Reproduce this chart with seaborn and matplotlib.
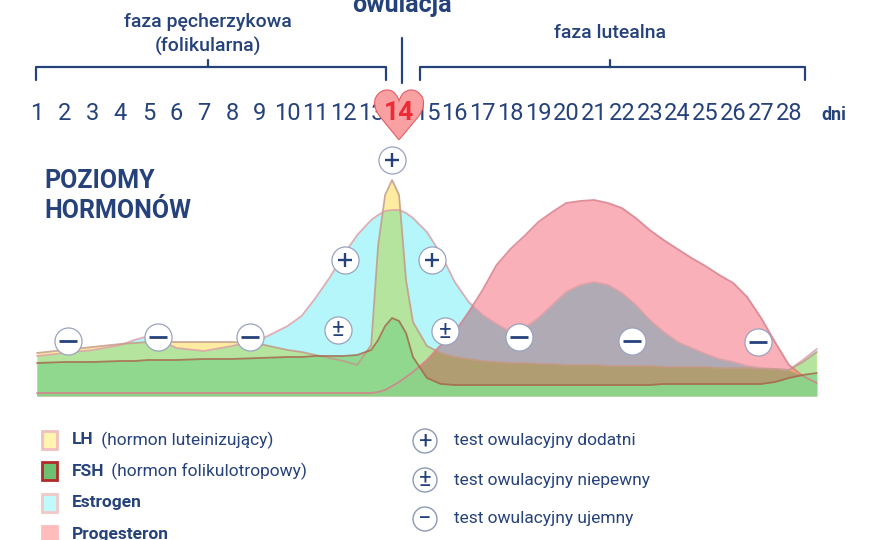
import numpy as np
import pandas as pd
import matplotlib
matplotlib.use("Agg")
import matplotlib.pyplot as plt
import seaborn as sns
from matplotlib.transforms import Affine2D
from matplotlib.patches import Rectangle, Circle
import matplotlib.patheffects as pe

# sample days of the cycle (finer around the LH peak)
days = [1, 2, 3, 4, 4.5, 5, 5.5, 6, 7, 8, 9, 10, 10.5, 11, 11.5, 12, 12.5, 13,
        13.25, 13.5, 13.75, 14, 14.25, 14.5, 15, 15.5, 16, 16.5, 17, 17.5, 18,
        18.5, 19, 19.5, 20, 20.5, 21, 21.5, 22, 22.5, 23, 23.5, 24, 24.5, 25,
        25.5, 26, 26.5, 27, 27.5, 28, 28.5, 29]

# hormone levels (arbitrary units)
estrogen = [40, 43, 46, 51, 56, 60, 55, 48, 45, 50, 56, 70, 80, 98, 118, 141, 161, 176,
            181, 185, 186, 186, 183, 178, 164, 142, 114, 94, 81, 72, 64, 68, 78, 91, 104,
            111, 114, 111, 103, 91, 76, 64, 54, 48, 42, 37, 34, 30, 28, 27, 26, 36, 47]
lh = [43, 46, 49, 52, 53, 54, 54, 54, 54, 54, 52, 46, 44, 41, 38, 35, 31, 51,
      151, 201, 216, 201, 116, 74, 50, 43, 39, 37, 35, 34, 33, 33, 32, 32, 31,
      31, 31, 30, 30, 30, 30, 29, 29, 29, 29, 28, 28, 28, 27, 27, 26, 34, 44]
progesteron = [3, 3, 3, 3, 3, 3, 3, 3, 3, 3, 3, 3, 3, 3, 3, 3, 3, 3,
               4, 6, 10, 14, 19, 24, 36, 51, 64, 84, 106, 131, 147, 160, 174, 184, 193,
               195, 196, 193, 188, 178, 166, 156, 147, 138, 130, 121, 113, 99, 78, 54, 31, 20, 13]
fsh = [33, 34, 34, 35, 35, 36, 36, 36, 37, 37, 38, 39, 39, 40, 40, 40, 41, 46,
       56, 70, 78, 75, 63, 39, 18, 12, 11, 11, 11, 11, 11, 11, 11, 11, 11,
       11, 11, 11, 11, 11, 11, 12, 12, 12, 12, 12, 12, 12, 12, 14, 18, 21, 23]

day_labels = ['1', '2', '3', '4', '5', '6', '7', '8', '9', '10', '11', '12', '13', '14',
              '15', '16', '17', '18', '19', '20', '21', '22', '23', '24', '25', '26', '27', '28']

# ovulation test results drawn on the curves
test_days = [2.1, 5.35, 8.65, 11.8, 15.65, 12.05, 15.2, 13.75, 18.3, 22.35, 26.9]
test_levels = [55, 59, 59, 66, 65, 136, 136, 236, 59, 55, 54]
test_kind = ['-', '-', '-', '±', '±', '+', '+', '+', '-', '-', '-']

legend_hormones = [('LH', ' (hormon luteinizujący)'), ('FSH', ' (hormon folikulotropowy)'),
                   ('Estrogen', ''), ('Progesteron', '')]
legend_tests = [('+', 'test owulacyjny dodatni'), ('±', 'test owulacyjny niepewny'),
                ('-', 'test owulacyjny ujemny')]

navy = '#26427b'
sns.set_theme(style='white')
plt.rcParams['font.family'] = ['Roboto', 'DejaVu Sans']

df = pd.DataFrame({'day': days, 'Estrogen': estrogen, 'LH': lh,
                   'Progesteron': progesteron, 'FSH': fsh})

fig = plt.figure(figsize=(8.8, 5.4), dpi=100)
ax = fig.add_axes([0, 0, 1, 1])
ax.axis('off')
px = Affine2D().scale(1 / 880, -1 / 540).translate(0, 1) + fig.transFigure

# multiply-style blending of the three translucent hormones
cE = np.array([180, 246, 250]) / 255
cL = np.array([255, 236, 160]) / 255
cP = np.array([250, 176, 184]) / 255
E, L, P = df['Estrogen'].values, df['LH'].values, df['Progesteron'].values

polys = {}
for name, vals, col in [('E', E, cE), ('L', L, cL), ('P', P, cP)]:
    polys[name] = ax.fill_between(df['day'], 0, vals, color=col, lw=0, zorder=1)

for a, va, ca, b, cb in [('E', E, cE, 'L', cL), ('E', E, cE, 'P', cP), ('L', L, cL, 'P', cP)]:
    pc = ax.fill_between(df['day'], 0, va, color=ca * cb, lw=0, zorder=2)
    pc.set_clip_path(polys[b].get_paths()[0], ax.transData)

pc = ax.fill_between(df['day'], 0, np.minimum(E, P), color=cE * cL * cP, lw=0, zorder=3)
pc.set_clip_path(polys['L'].get_paths()[0], ax.transData)

ax.fill_between(df['day'], 0, df['FSH'], color='#8cd78c', alpha=0.92, lw=0, zorder=3.5)

edges = {'Estrogen': '#d9a0a8', 'LH': '#c49a88', 'Progesteron': '#d77f8a', 'FSH': '#a5694e'}
for name, col in edges.items():
    sns.lineplot(data=df, x='day', y=name, ax=ax, color=col, lw=1.3, alpha=0.85, zorder=4)

# test markers
ax.scatter(test_days, test_levels, s=380, facecolor='white', edgecolor='#9aa3bf',
           lw=0.9, zorder=5)
for d, lv, k in zip(test_days, test_levels, test_kind):
    if k == '+':
        ax.scatter([d], [lv], marker='+', s=110, color=navy, lw=1.7, zorder=6)
    elif k == '-':
        ax.scatter([d], [lv], marker='_', s=150, color=navy, lw=2, zorder=6)
    else:
        ax.text(d, lv, '±', ha='center', va='center', fontsize=17, color=navy, zorder=6)

ax.set_xlim(1 - 37 / 27.85, 1 + 843 / 27.85)
ax.set_ylim(-144, 396)
ax.set_xlabel('')
ax.set_ylabel('')

# day axis labels
for i, lab in enumerate(day_labels):
    if lab == '14':
        ax.text(i + 1, 276, '\u2665', family='DejaVu Sans', fontsize=48, color='#f8a0a2',
                ha='center', va='center', zorder=6,
                path_effects=[pe.withStroke(linewidth=1.5, foreground='#e2585c')])
        ax.text(i + 1, 283, lab, ha='center', va='center', fontsize=19, fontweight='bold',
                color='#ee2a35', zorder=7)
    else:
        ax.text(i + 1, 283, lab, ha='center', va='center', fontsize=17, color=navy)
ax.text(1 + (834 - 37) / 27.85, 281, 'dni', ha='center', va='center', fontsize=13,
        fontweight='bold', color=navy)

# phase headers and brackets
fig.text(402, 12, 'owulacja', transform=px, ha='center', va='baseline', fontsize=18,
         fontweight='bold', color=navy)
fig.text(208, 22, 'faza pęcherzykowa', transform=px, ha='center', va='center',
         fontsize=14, fontweight='medium', color=navy)
fig.text(208, 46, '(folikularna)', transform=px, ha='center', va='center',
         fontsize=14, fontweight='medium', color=navy)
fig.text(610, 33, 'faza lutealna', transform=px, ha='center', va='center',
         fontsize=14, fontweight='medium', color=navy)
for x0, x1, xm in [(36, 386, 208), (420, 805, 610)]:
    ax.plot([x0, x0, x1, x1], [80, 67, 67, 80], transform=px, color=navy, lw=1.6)
    ax.plot([xm, xm], [67, 60], transform=px, color=navy, lw=1.6)
ax.plot([402, 402], [38, 83], transform=px, color=navy, lw=1.6)

fig.text(44, 181, 'POZIOMY', transform=px, ha='left', va='center', fontsize=18,
         fontweight='bold', color=navy)
fig.text(44, 211, 'HORMONÓW', transform=px, ha='left', va='center', fontsize=18,
         fontweight='bold', color=navy)

# legend: hormones
sw_fill = ['#fff4b0', '#6cc070', '#c0fafc', '#ffbcbc']
sw_edge = ['#f0c0c0', '#b02a2a', '#f0c8c8', '#ffbcbc']
rows = [440, 471, 503, 535]
for (bold, rest), fc, ec, y in zip(legend_hormones, sw_fill, sw_edge, rows):
    fig.add_artist(Rectangle((42, y - 9), 15, 18, transform=px, facecolor=fc,
                             edgecolor=ec, lw=2))
    fig.text(72, y, bold, transform=px, ha='left', va='center', fontsize=12.5,
             fontweight='bold', color=navy)
    if rest:
        off = {'LH': 97, 'FSH': 107}[bold]
        fig.text(off, y, rest, transform=px, ha='left', va='center', fontsize=12.5,
                 color=navy)

# legend: tests
for (k, lab), y in zip(legend_tests, [441, 480, 519]):
    fig.add_artist(Circle((425, y), 12, transform=px, facecolor='white',
                          edgecolor='#8d99b5', lw=1))
    sym = {'+': '+', '±': '±', '-': '\u2212'}[k]
    fig.text(425, y, sym, transform=px, ha='center', va='center', fontsize=17,
             color=navy)
    fig.text(454, y, lab, transform=px, ha='left', va='center', fontsize=12.5,
             color=navy)

fig.savefig('out.png', dpi=100)
